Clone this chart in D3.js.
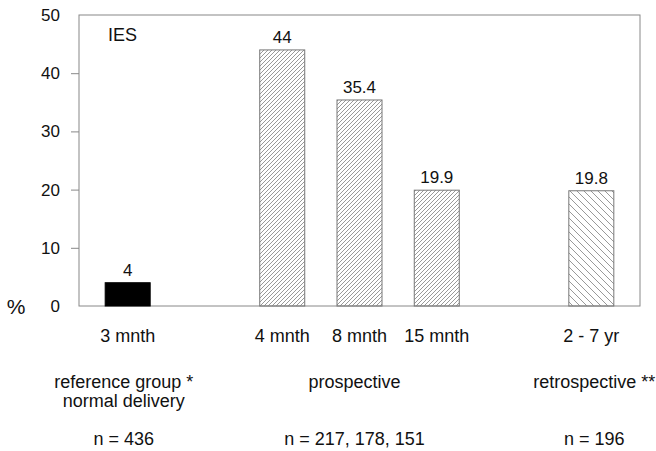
<!DOCTYPE html>
<html>
<head>
<meta charset="utf-8">
<script src="https://cdn.jsdelivr.net/npm/d3@7"></script>
<style>
  body { margin: 0; background: #fff; }
  text { font-family: "Liberation Sans", Arial, sans-serif; fill: #111; }
</style>
</head>
<body>
<svg id="chart" width="656" height="451"></svg>
<script>
// slots along the x axis, the "gap" entries are spaces between the groups
const slots = ["3 mnth", "gap1", "4 mnth", "8 mnth", "15 mnth", "gap2", "2 - 7 yr"];
const categories = ["3 mnth", "4 mnth", "8 mnth", "15 mnth", "2 - 7 yr"];
const values = [4, 44, 35.4, 19.9, 19.8];
const valueLabels = ["4", "44", "35.4", "19.9", "19.8"];
const fills = ["solid", "fwd", "fwd", "fwd", "back"];
const yTicks = [0, 10, 20, 30, 40, 50];

const groupSlots = ["3 mnth", "8 mnth", "2 - 7 yr"];
const groupNames = [["reference group *", "normal delivery"], ["prospective"], ["retrospective **"]];
const groupN = ["n = 436", "n = 217, 178, 151", "n = 196"];

const MARGIN = {top: 15, right: 16, bottom: 145, left: 79};
const WIDTH = 656, HEIGHT = 451;
const innerW = WIDTH - MARGIN.left - MARGIN.right;
const innerH = HEIGHT - MARGIN.top - MARGIN.bottom;

const svg = d3.select('#chart');
const defs = svg.append('defs');

// fine "/" hatching
defs.append('pattern')
    .attr('id', 'fwd')
    .attr('patternUnits', 'userSpaceOnUse')
    .attr('width', 4).attr('height', 4)
  .append('path')
    .attr('d', 'M-1,1 l2,-2 M0,4 l4,-4 M3,5 l2,-2')
    .attr('stroke', '#999')
    .attr('stroke-width', 1);

// wider "\" hatching
defs.append('pattern')
    .attr('id', 'back')
    .attr('patternUnits', 'userSpaceOnUse')
    .attr('width', 7).attr('height', 7)
  .append('path')
    .attr('d', 'M-1,-1 l9,9 M-4,3 l5,5 M3,-4 l5,5')
    .attr('stroke', '#999')
    .attr('stroke-width', 1);

const g = svg.append('g')
    .attr('transform', `translate(${MARGIN.left},${MARGIN.top})`);

const xScale = d3.scalePoint()
    .domain(slots)
    .range([0, innerW])
    .padding(0.63);

const yScale = d3.scaleLinear()
    .domain([0, 50])
    .range([innerH, 0]);

const barW = 45;

// y axis
const yAxis = d3.axisLeft(yScale)
    .tickValues(yTicks)
    .tickSize(8)
    .tickPadding(11);
const yg = g.append('g').call(yAxis);
yg.select('.domain').remove();
yg.selectAll('.tick line')
    .attr('stroke', '#888')
    .attr('display', d => (d === 0 || d === 50) ? 'none' : null);
yg.selectAll('.tick text')
    .attr('font-size', 17)
    .attr('fill', '#111')
    .style('font-family', '"Liberation Sans", Arial, sans-serif');

// frame
g.append('rect')
    .attr('x', 0).attr('y', 0)
    .attr('width', innerW).attr('height', innerH)
    .attr('fill', 'none')
    .attr('stroke', '#888')
    .attr('stroke-width', 1);

// bars
g.selectAll('rect.bar')
    .data(categories)
    .join('rect')
    .attr('class', 'bar')
    .attr('x', d => xScale(d) - barW / 2)
    .attr('y', (d, i) => yScale(values[i]))
    .attr('width', barW)
    .attr('height', (d, i) => yScale(0) - yScale(values[i]))
    .attr('fill', (d, i) => fills[i] === 'solid' ? '#000' : `url(#${fills[i]})`)
    .attr('stroke', (d, i) => fills[i] === 'solid' ? '#000' : '#777')
    .attr('stroke-width', 1);

// value labels
g.selectAll('text.val')
    .data(categories)
    .join('text')
    .attr('class', 'val')
    .attr('x', d => xScale(d))
    .attr('y', (d, i) => yScale(values[i]) - 7)
    .attr('text-anchor', 'middle')
    .attr('font-size', 17)
    .text((d, i) => valueLabels[i]);

// category labels
g.selectAll('text.cat')
    .data(categories)
    .join('text')
    .attr('class', 'cat')
    .attr('x', d => xScale(d))
    .attr('y', innerH + 36)
    .attr('text-anchor', 'middle')
    .attr('font-size', 18)
    .text(d => d);

// group labels
groupSlots.forEach((s, i) => {
    const cx = xScale(s) + (i === 0 ? -4 : i === 1 ? -5 : 3);
    groupNames[i].forEach((line, j) => {
        g.append('text')
            .attr('x', cx)
            .attr('y', innerH + 82 + j * 19)
            .attr('text-anchor', 'middle')
            .attr('font-size', 18)
            .text(line);
    });
    g.append('text')
        .attr('x', cx)
        .attr('y', innerH + 139)
        .attr('text-anchor', 'middle')
        .attr('font-size', 18)
        .text(groupN[i]);
});

// IES label and % unit
g.append('text')
    .attr('x', 29).attr('y', 26)
    .attr('font-size', 18)
    .text('IES');

svg.append('text')
    .attr('x', 16).attr('y', 314)
    .attr('text-anchor', 'middle')
    .attr('font-size', 21)
    .text('%');
</script>
</body>
</html>
